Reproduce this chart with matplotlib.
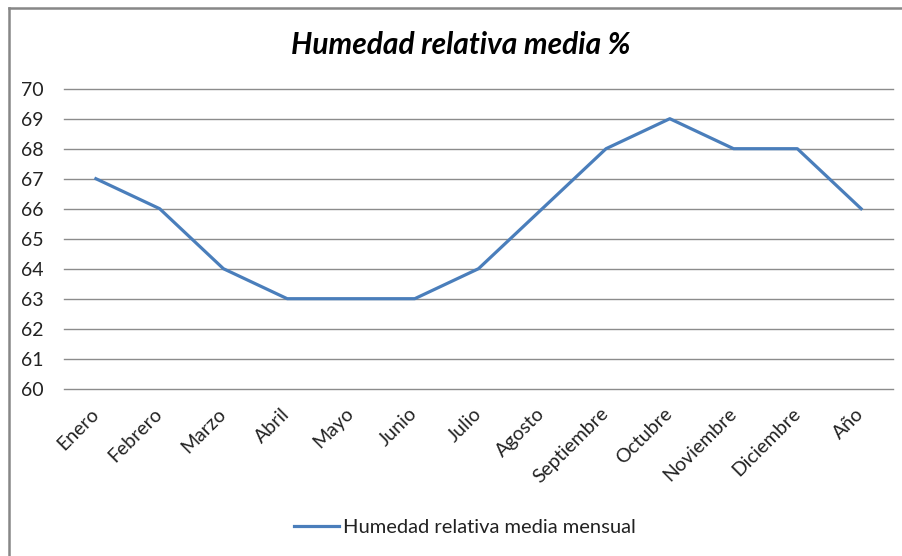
import matplotlib.pyplot as plt
from matplotlib.lines import Line2D

# Monthly mean relative humidity (%)
meses = ["Enero", "Febrero", "Marzo", "Abril", "Mayo", "Junio", "Julio",
         "Agosto", "Septiembre", "Octubre", "Noviembre", "Diciembre", "Año"]
humedad = [67, 66, 64, 63, 63, 63, 64, 66, 68, 69, 68, 68, 66]
y_ticks = list(range(60, 71))

plt.rcParams["font.family"] = ["Lato", "DejaVu Sans"]

W, H = 903, 556
fig = plt.figure(figsize=(W / 100, H / 100), dpi=100)
ax = fig.add_axes([64 / W, 1 - 388.7 / H, 829 / W, 300 / H])

x = list(range(len(meses)))
ax.plot(x, humedad, color="#4a7ebb", linewidth=2.3, solid_joinstyle="round",
        label="Humedad relativa media mensual", zorder=3)

ax.set_xlim(-0.5, len(meses) - 0.5)
ax.set_ylim(60, 70)
ax.set_yticks(y_ticks)
ax.set_xticks(x)
ax.set_xticklabels(meses, rotation=45, ha="right", va="center",
                   rotation_mode="anchor", fontsize=14)
ax.tick_params(axis="y", length=0, pad=14.4, labelsize=14, labelcolor="#222222")
ax.tick_params(axis="x", length=0, pad=16, labelcolor="#222222")
for s in ax.spines.values():
    s.set_visible(False)
ax.grid(axis="y", color="#8c8c8c", linewidth=1)
for gl in ax.get_ygridlines():
    gl.set_clip_on(False)
ax.set_axisbelow(True)

fig.text(461 / W, 1 - 45 / H, "Humedad relativa media %", ha="center", va="center",
         fontsize=21.5, fontweight="bold", fontstyle="italic")

leg = fig.legend(loc="center", bbox_to_anchor=(465 / W, 1 - 527 / H), frameon=False,
                 fontsize=14.5, handlelength=2.2, handletextpad=0.2)
for t in leg.get_texts():
    t.set_color("#222222")

# chart frame: only the left and top edges are inside the picture
fig.add_artist(Line2D([9.5 / W, 9.5 / W], [0, 1 - 8 / H], transform=fig.transFigure,
                      color="#878787", linewidth=1.8))
fig.add_artist(Line2D([9.5 / W, 1], [1 - 8 / H, 1 - 8 / H], transform=fig.transFigure,
                      color="#878787", linewidth=1.8))

fig.savefig("out.png", dpi=100)
